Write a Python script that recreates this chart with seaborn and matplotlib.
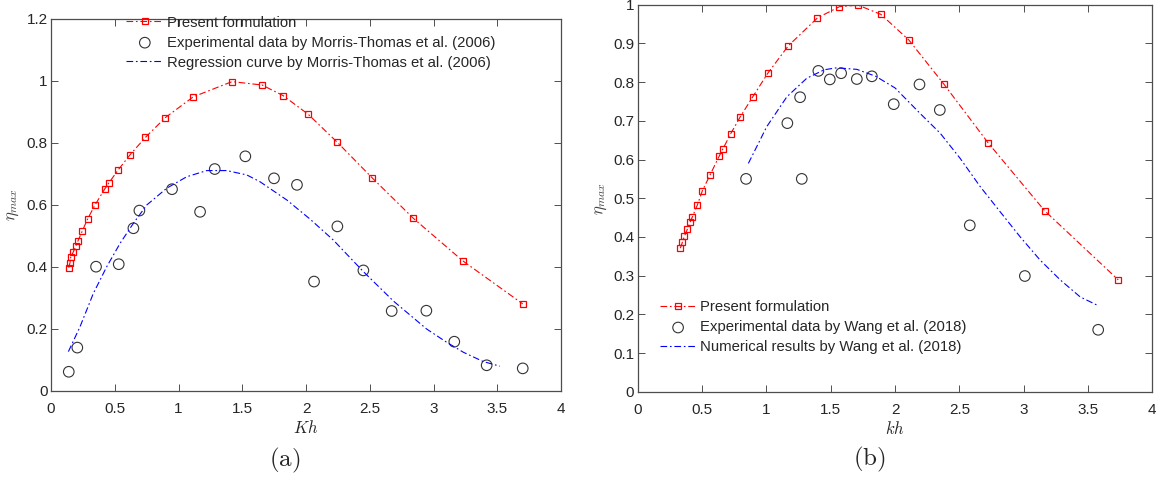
import numpy as np
import pandas as pd
import matplotlib
matplotlib.use("Agg")
import matplotlib.pyplot as plt
import seaborn as sns

# ---------------- data: panel (a) ----------------
a_present_x = [0.139, 0.149, 0.154, 0.175, 0.196, 0.212, 0.246, 0.288, 0.345, 0.42, 0.455,
               0.528, 0.62, 0.74, 0.897, 1.116, 1.42, 1.655, 1.82, 2.016, 2.246, 2.518,
               2.842, 3.229, 3.70]
a_present_y = [0.398, 0.414, 0.431, 0.449, 0.469, 0.485, 0.517, 0.556, 0.600, 0.651, 0.672,
               0.714, 0.762, 0.818, 0.882, 0.949, 0.998, 0.987, 0.953, 0.893, 0.802, 0.688,
               0.557, 0.420, 0.281]
a_exp_x = [0.139, 0.206, 0.353, 0.531, 0.646, 0.693, 0.949, 1.169, 1.284, 1.524, 1.749,
           1.929, 2.063, 2.246, 2.45, 2.672, 2.944, 3.163, 3.417, 3.70]
a_exp_y = [0.062, 0.140, 0.401, 0.409, 0.525, 0.582, 0.651, 0.578, 0.716, 0.757, 0.686,
           0.665, 0.353, 0.531, 0.389, 0.258, 0.259, 0.159, 0.083, 0.073]
a_reg_x = [0.136, 0.227, 0.332, 0.437, 0.541, 0.646, 0.751, 0.907, 1.064, 1.221, 1.378,
           1.535, 1.639, 1.85, 2.03, 2.214, 2.45, 2.686, 2.946, 3.10, 3.234, 3.39, 3.52]
a_reg_y = [0.127, 0.207, 0.315, 0.401, 0.476, 0.541, 0.600, 0.654, 0.691, 0.711, 0.711,
           0.697, 0.675, 0.616, 0.555, 0.487, 0.385, 0.290, 0.200, 0.158, 0.125, 0.095, 0.080]

# ---------------- data: panel (b) ----------------
b_present_x = [0.331, 0.347, 0.363, 0.386, 0.407, 0.425, 0.464, 0.502, 0.562, 0.632, 0.663,
               0.723, 0.798, 0.894, 1.013, 1.171, 1.397, 1.568, 1.713, 1.89, 2.107, 2.379,
               2.726, 3.162, 3.735]
b_present_y = [0.371, 0.386, 0.402, 0.420, 0.438, 0.452, 0.483, 0.519, 0.560, 0.608, 0.628,
               0.667, 0.711, 0.762, 0.824, 0.894, 0.966, 0.995, 0.999, 0.975, 0.909, 0.795,
               0.642, 0.468, 0.289]
b_exp_x = [0.842, 1.163, 1.262, 1.275, 1.404, 1.493, 1.581, 1.703, 1.82, 1.99, 2.19, 2.348,
           2.581, 3.009, 3.579]
b_exp_y = [0.550, 0.694, 0.761, 0.550, 0.829, 0.807, 0.823, 0.808, 0.815, 0.743, 0.794, 0.728,
           0.430, 0.299, 0.160]
b_num_x = [0.86, 1.003, 1.159, 1.314, 1.45, 1.547, 1.703, 1.85, 2.0, 2.195, 2.351, 2.506,
           2.662, 2.817, 2.973, 3.128, 3.284, 3.439, 3.569]
b_num_y = [0.590, 0.685, 0.762, 0.810, 0.832, 0.837, 0.833, 0.815, 0.785, 0.719, 0.668, 0.603,
           0.530, 0.465, 0.400, 0.340, 0.289, 0.245, 0.224]

xticks = [0, 0.5, 1, 1.5, 2, 2.5, 3, 3.5, 4]
a_yticks = [0, 0.2, 0.4, 0.6, 0.8, 1, 1.2]
b_yticks = [0, 0.1, 0.2, 0.3, 0.4, 0.5, 0.6, 0.7, 0.8, 0.9, 1]

a_labels = ["Present formulation", "Experimental data by Morris-Thomas et al. (2006)",
            "Regression curve by Morris-Thomas et al. (2006)"]
b_labels = ["Present formulation", "Experimental data by Wang et al. (2018)",
            "Numerical results by Wang et al. (2018)"]

# ---------------- style ----------------
sns.set_style("ticks")
plt.rcParams["font.family"] = ["Liberation Sans", "DejaVu Sans"]
plt.rcParams["mathtext.fontset"] = "cm"

fig = plt.figure(figsize=(11.68, 4.82), dpi=100)
axA = fig.add_axes([0.0437, 0.1888, 0.4366, 0.7718])
axB = fig.add_axes([0.546, 0.1873, 0.4406, 0.8029])

DASH = (6, 2.5, 1.5, 2.5)


def draw(ax, px, py, ex, ey, cx, cy, labels, yticks, ylim, xlabel, panel, ppos, ylpad):
    dp = pd.DataFrame({"x": px, "y": py})
    de = pd.DataFrame({"x": ex, "y": ey})
    dc = pd.DataFrame({"x": cx, "y": cy})
    sns.lineplot(data=dp, x="x", y="y", ax=ax, sort=False, color="red", lw=0.8,
                 marker="s", markersize=4.5, markerfacecolor="none",
                 markeredgecolor="red", markeredgewidth=0.9, label=labels[0])
    sns.scatterplot(data=de, x="x", y="y", ax=ax, marker="o", s=58,
                    facecolors="none", edgecolor="#333333", linewidth=0.8,
                    label=labels[1])
    sns.lineplot(data=dc, x="x", y="y", ax=ax, sort=False, color="blue", lw=0.8,
                 label=labels[2])
    for ln in ax.get_lines():
        ln.set_dashes(DASH)
    ax.set_xlim(0, 4)
    ax.set_ylim(*ylim)
    ax.set_xticks(xticks)
    ax.set_yticks(yticks)
    ax.set_xticklabels([f"{t:g}" for t in xticks], fontsize=11)
    ax.set_yticklabels([f"{t:g}" for t in yticks], fontsize=11)
    ax.tick_params(direction="in", top=True, right=True, length=5, width=0.6,
                   color="#333333", labelcolor="#262626")
    ax.tick_params(axis="x", pad=8)
    ax.tick_params(axis="y", pad=2.5)
    for sp in ax.spines.values():
        sp.set_visible(True)
        sp.set_linewidth(0.9)
        sp.set_color("#4d4d4d")
    ax.set_xlabel(xlabel, fontsize=12, labelpad=2, color="#262626")
    ax.set_ylabel(r"$\eta_{max}$", fontsize=12, labelpad=ylpad, color="#404040")
    ax.text(ppos[0], ppos[1], panel, transform=ax.transAxes, ha="center", va="center",
            fontsize=18)


draw(axA, a_present_x, a_present_y, a_exp_x, a_exp_y, a_reg_x, a_reg_y, a_labels,
     a_yticks, (0, 1.2), r"$Kh$", r"$\mathrm{(a)}$", (0.459, -0.188), 4)
draw(axB, b_present_x, b_present_y, b_exp_x, b_exp_y, b_num_x, b_num_y, b_labels,
     b_yticks, (0, 1.0), r"$kh$", r"$\mathrm{(b)}$", (0.451, -0.176), 3)

axA.legend(loc="upper left", bbox_to_anchor=(0.13, 1.033), frameon=False,
           fontsize=10.7, handlelength=2.5, handletextpad=0.25, labelspacing=0.4,
           borderaxespad=0.2)
axB.legend(loc="lower left", bbox_to_anchor=(0.025, 0.0735), frameon=False,
           fontsize=10.7, handlelength=2.5, handletextpad=0.25, labelspacing=0.4,
           borderaxespad=0.2)

fig.savefig("out.png", dpi=100)
